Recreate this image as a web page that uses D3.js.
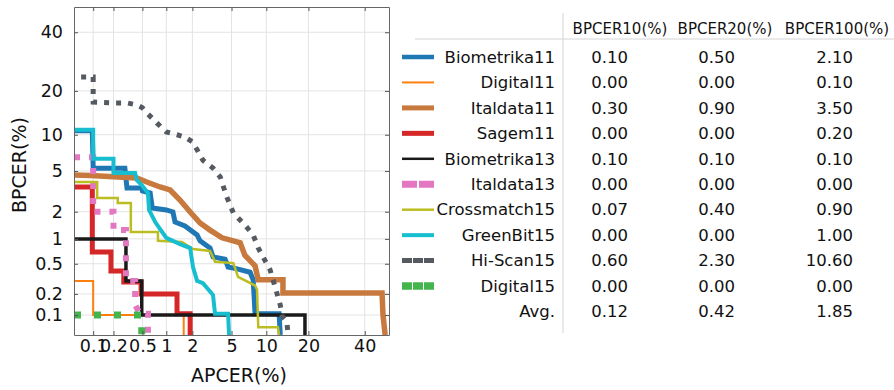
<!DOCTYPE html>
<html>
<head>
<meta charset="utf-8">
<script src="https://cdn.jsdelivr.net/npm/d3@7"></script>
<style>
  body { margin: 0; background: #fff; }
  svg { display: block; font-family: "DejaVu Sans", sans-serif; }
</style>
</head>
<body>
<svg id="chart" width="894" height="390"></svg>
<script>
// Tick values for both axes (%)
const axisTicks = [0.1, 0.2, 0.5, 1, 2, 5, 10, 20, 40];

// Table contents
const systems = ["Biometrika11", "Digital11", "Italdata11", "Sagem11", "Biometrika13",
                 "Italdata13", "Crossmatch15", "GreenBit15", "Hi-Scan15", "Digital15"];
const headers = ["BPCER10(%)", "BPCER20(%)", "BPCER100(%)"];
const bpcer10 = ["0.10", "0.00", "0.30", "0.00", "0.10", "0.00", "0.07", "0.00", "0.60", "0.00", "0.12"];
const bpcer20 = ["0.50", "0.00", "0.90", "0.00", "0.10", "0.00", "0.40", "0.00", "2.30", "0.00", "0.42"];
const bpcer100 = ["2.10", "0.10", "3.50", "0.20", "0.10", "0.00", "0.90", "1.00", "10.60", "0.00", "1.85"];

// DET curves as [APCER %, BPCER %] points
const curveBiometrika11 = [[0.05, 10.7], [0.097, 10.7], [0.1, 5.3], [0.29, 5.3], [0.31, 3.47], [0.49, 3.47],
  [0.5, 3.25], [0.63, 3.1], [0.67, 2.19], [1.0, 2.09], [1.2, 1.99], [1.27, 1.55], [1.65, 1.40], [2.25, 1.11],
  [2.42, 0.95], [3.08, 0.78], [3.3, 0.61], [4.34, 0.57], [4.64, 0.455], [5.63, 0.43], [7.34, 0.39],
  [7.8, 0.31], [8.09, 0.104], [12.55, 0.104], [12.8, 0.05]];
const curveDigital11 = [[0.05, 0.3], [0.1, 0.3], [0.1, 0.1], [1.6, 0.1], [1.6, 0.05]];
const curveItaldata11 = [[0.05, 4.6], [0.09, 4.55], [0.42, 4.32], [0.57, 3.96], [0.84, 3.55], [1.11, 3.32],
  [1.45, 2.64], [1.89, 1.99], [2.42, 1.51], [3.08, 1.26], [4.06, 1.03], [5.2, 0.95], [6.0, 0.90], [6.6, 0.64],
  [8.09, 0.47], [8.6, 0.31], [13.4, 0.31], [13.4, 0.206], [47.1, 0.206], [47.5, 0.1], [48.4, 0.05]];
const curveSagem11 = [[0.05, 3.55], [0.097, 3.55], [0.097, 0.70], [0.184, 0.70], [0.184, 0.405], [0.28, 0.405],
  [0.28, 0.29], [0.48, 0.29], [0.48, 0.20], [1.34, 0.20], [1.34, 0.104], [1.89, 0.104], [1.89, 0.05]];
const curveBiometrika13 = [[0.05, 1.0], [0.30, 1.0], [0.30, 0.30], [0.49, 0.30], [0.49, 0.1], [19.0, 0.1], [19.0, 0.05]];
const curveItaldata13 = [[0.05, 6.6], [0.1, 6.6], [0.1, 2.0], [0.2, 2.0], [0.2, 1.26], [0.30, 1.26], [0.30, 0.30],
  [0.40, 0.30], [0.40, 0.14], [0.465, 0.104], [0.59, 0.104], [0.59, 0.05]];
const curveCrossmatch15 = [[0.05, 3.96], [0.115, 3.96], [0.115, 2.77], [0.23, 2.77], [0.23, 2.47], [0.35, 2.47],
  [0.35, 1.2], [0.79, 1.2], [0.79, 0.95], [1.53, 0.92], [2.03, 0.76], [3.08, 0.72], [3.46, 0.53], [5.2, 0.51],
  [5.74, 0.34], [8.09, 0.26], [8.4, 0.23], [8.6, 0.066], [12.3, 0.066], [12.55, 0.05]];
const curveGreenBit15 = [[0.05, 10.9], [0.1, 10.9], [0.1, 6.4], [0.2, 6.4], [0.2, 4.8], [0.40, 4.8], [0.42, 4.14],
  [0.49, 3.71], [0.59, 3.1], [0.61, 2.09], [0.73, 1.55], [0.89, 1.2], [1.0, 1.03], [1.45, 0.87], [1.89, 0.78],
  [2.03, 0.455], [2.25, 0.30], [2.6, 0.28], [3.3, 0.193], [3.46, 0.104], [4.64, 0.104], [4.74, 0.05]];
const curveHiScan15 = [[0.065, 24.1], [0.1, 24.1], [0.1, 17.0], [0.2, 16.8], [0.31, 16.8], [0.42, 16.3], [0.5, 15.6],
  [0.57, 14.4], [0.77, 12.2], [1.0, 10.5], [1.34, 10.0], [1.65, 9.6], [2.0, 8.8], [2.25, 7.6], [2.6, 6.2],
  [3.3, 5.3], [3.9, 4.4], [4.5, 2.85], [5.2, 1.94], [6.6, 1.44], [7.8, 1.11], [8.6, 0.78], [9.4, 0.61],
  [10.7, 0.42], [11.7, 0.25], [12.8, 0.14], [13.2, 0.097], [14.3, 0.079], [14.6, 0.05]];
const curveDigital15 = [[0.05, 0.1], [0.49, 0.1], [0.49, 0.05]];

const curves = [curveBiometrika11, curveDigital11, curveItaldata11, curveSagem11, curveBiometrika13,
                curveItaldata13, curveCrossmatch15, curveGreenBit15, curveHiScan15, curveDigital15];

// Line styles per system
const styles = [
  { color: "#1f77b4", width: 5, dash: null, legendWidth: 4.5, legendDash: null },
  { color: "#ff7f0e", width: 2, dash: null, legendWidth: 2, legendDash: null },
  { color: "#c7793e", width: 5.5, dash: null, legendWidth: 5, legendDash: null },
  { color: "#d62728", width: 5, dash: null, legendWidth: 5, legendDash: null },
  { color: "#1a1a1a", width: 3.5, dash: null, legendWidth: 2.5, legendDash: null },
  { color: "#e377c2", width: 6, dash: "6,9", legendWidth: 7, legendDash: "15,2" },
  { color: "#bcbd22", width: 2.5, dash: null, legendWidth: 2.5, legendDash: null },
  { color: "#17becf", width: 4, dash: null, legendWidth: 4, legendDash: null },
  { color: "#555a60", width: 5, dash: "5,7", legendWidth: 5, legendDash: "10,1" },
  { color: "#44b44c", width: 7, dash: "7,13", legendWidth: 7.5, legendDash: "10,1" }
];

// Inverse normal CDF (Acklam's approximation) for the DET axes
function probit(p) {
  const a = [-3.969683028665376e+01, 2.209460984245205e+02, -2.759285104469687e+02,
             1.383577518672690e+02, -3.066479806614716e+01, 2.506628277459239e+00];
  const b = [-5.447609879822406e+01, 1.615858368580409e+02, -1.556989798598866e+02,
             6.680131188771972e+01, -1.328068155288572e+01];
  const c = [-7.784894002430293e-03, -3.223964580411365e-01, -2.400758277161838e+00,
             -2.549732539343734e+00, 4.374664141464968e+00, 2.938163982698783e+00];
  const d = [7.784695709041462e-03, 3.224671290700398e-01, 2.445134137142996e+00, 3.754408661907416e+00];
  const pl = 0.02425;
  if (p < pl) {
    const q = Math.sqrt(-2 * Math.log(p));
    return (((((c[0]*q+c[1])*q+c[2])*q+c[3])*q+c[4])*q+c[5]) / ((((d[0]*q+d[1])*q+d[2])*q+d[3])*q+1);
  }
  if (p <= 1 - pl) {
    const q = p - 0.5, r = q * q;
    return (((((a[0]*r+a[1])*r+a[2])*r+a[3])*r+a[4])*r+a[5])*q / (((((b[0]*r+b[1])*r+b[2])*r+b[3])*r+b[4])*r+1);
  }
  const q = Math.sqrt(-2 * Math.log(1 - p));
  return -(((((c[0]*q+c[1])*q+c[2])*q+c[3])*q+c[4])*q+c[5]) / ((((d[0]*q+d[1])*q+d[2])*q+d[3])*q+1);
}

const svg = d3.select("#chart");
const plot = { left: 74, right: 389, top: 7, bottom: 335 };

// Linear scales over probit-transformed rates (0.05% .. 50%)
const xScale = d3.scaleLinear().domain([probit(0.0005), probit(0.5)]).range([plot.left, plot.right]);
const yScale = d3.scaleLinear().domain([probit(0.0005), probit(0.5)]).range([plot.bottom, plot.top]);
const px = v => xScale(probit(v / 100));
const py = v => yScale(probit(v / 100));
const tickPos = axisTicks.map(v => probit(v / 100));

// Grid
const grid = svg.append("g").attr("stroke", "#e3e3e3").attr("stroke-width", 1);
tickPos.forEach(t => {
  grid.append("line").attr("x1", xScale(t)).attr("x2", xScale(t)).attr("y1", plot.top).attr("y2", plot.bottom);
  grid.append("line").attr("y1", yScale(t)).attr("y2", yScale(t)).attr("x1", plot.left).attr("x2", plot.right);
});

// Curves
svg.append("clipPath").attr("id", "clip").append("rect")
  .attr("x", plot.left).attr("y", plot.top)
  .attr("width", plot.right - plot.left).attr("height", plot.bottom - plot.top);

const line = d3.line().x(d => px(d[0])).y(d => py(d[1]));
const curveG = svg.append("g").attr("clip-path", "url(#clip)");
curves.forEach((c, i) => {
  const s = styles[i];
  curveG.append("path")
    .datum(c)
    .attr("fill", "none")
    .attr("stroke", s.color)
    .attr("stroke-width", s.width)
    .attr("stroke-dasharray", s.dash)
    .attr("stroke-linejoin", "miter")
    .attr("d", line);
});

// Axes with inward ticks on all four sides
const fmt = (d, i) => axisTicks[i];
function styleAxis(g) {
  g.select(".domain").attr("stroke", "#666");
  g.selectAll(".tick line").attr("stroke", "#555");
  g.selectAll("text").attr("fill", "#111").attr("font-size", 17.5)
    .attr("font-family", "DejaVu Sans, sans-serif");
}
svg.append("g").attr("transform", `translate(0,${plot.bottom})`)
  .call(d3.axisBottom(xScale).tickValues(tickPos).tickFormat(fmt).tickSize(-4).tickPadding(5).tickSizeOuter(0))
  .call(styleAxis);
svg.append("g").attr("transform", `translate(${plot.left},0)`)
  .call(d3.axisLeft(yScale).tickValues(tickPos).tickFormat(fmt).tickSize(-4).tickPadding(11).tickSizeOuter(0))
  .call(styleAxis);
svg.append("g").attr("transform", `translate(0,${plot.top})`)
  .call(d3.axisTop(xScale).tickValues(tickPos).tickFormat("").tickSize(-4).tickSizeOuter(0))
  .call(styleAxis);
svg.append("g").attr("transform", `translate(${plot.right},0)`)
  .call(d3.axisRight(yScale).tickValues(tickPos).tickFormat("").tickSize(-4).tickSizeOuter(0))
  .call(styleAxis);

// Axis titles
svg.append("text").attr("x", 239).attr("y", 382).attr("text-anchor", "middle")
  .attr("font-size", 19).attr("fill", "#111").text("APCER(%)");
svg.append("text").attr("transform", "translate(26,165) rotate(-90)").attr("text-anchor", "middle")
  .attr("font-size", 19).attr("fill", "#111").text("BPCER(%)");

// Table with legend samples
const rowY = i => 57 + 25.45 * i;
const table = svg.append("g").attr("font-size", 16.5).attr("fill", "#111");
svg.append("line").attr("x1", 563).attr("x2", 563).attr("y1", 13).attr("y2", 333)
  .attr("stroke", "#d4d4d4").attr("stroke-width", 1);
svg.append("line").attr("x1", 415).attr("x2", 894).attr("y1", 39).attr("y2", 39)
  .attr("stroke", "#d4d4d4").attr("stroke-width", 1);

const headerX = [620, 725, 837];
headers.forEach((h, i) => {
  table.append("text").attr("x", headerX[i]).attr("y", 34).attr("text-anchor", "middle")
    .attr("font-size", 15).text(h);
});

const rowLabels = systems.concat(["Avg."]);
const columns = [bpcer10, bpcer20, bpcer100];
const colX = [628, 735, 853];
rowLabels.forEach((name, i) => {
  const y = rowY(i);
  table.append("text").attr("x", 555).attr("y", y).attr("dy", "0.35em")
    .attr("text-anchor", "end").text(name);
  columns.forEach((col, j) => {
    table.append("text").attr("x", colX[j]).attr("y", y).attr("dy", "0.35em")
      .attr("text-anchor", "end").text(col[i]);
  });
  if (i < styles.length) {
    const s = styles[i];
    svg.append("line").attr("x1", 402).attr("x2", 434).attr("y1", y).attr("y2", y)
      .attr("stroke", s.color).attr("stroke-width", s.legendWidth)
      .attr("stroke-dasharray", s.legendDash);
  }
});
</script>
</body>
</html>
